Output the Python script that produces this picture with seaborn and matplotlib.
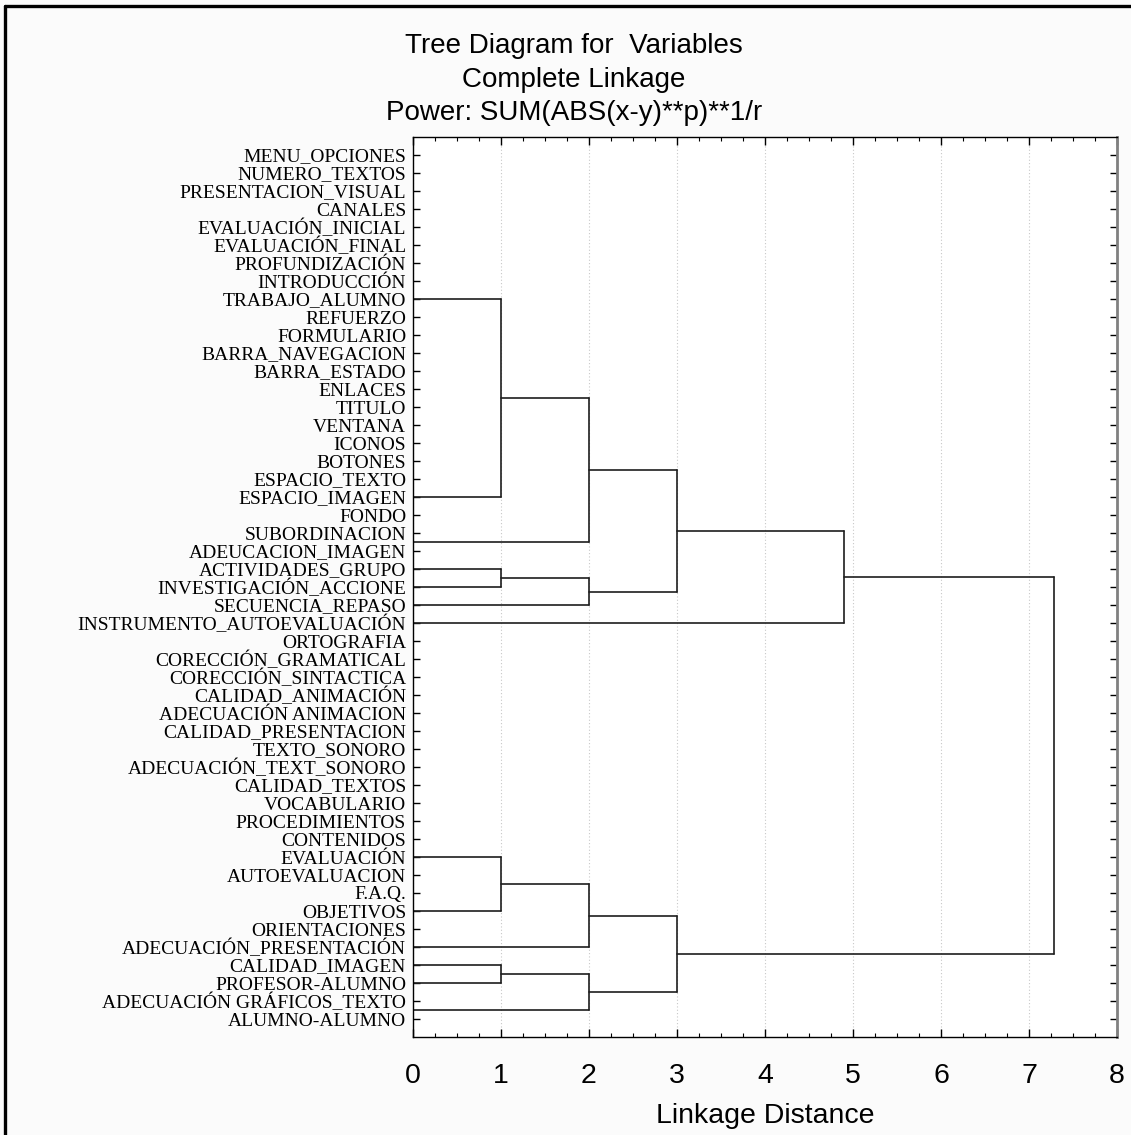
import matplotlib
matplotlib.use("Agg")
import matplotlib.pyplot as plt
from matplotlib.ticker import MultipleLocator
from matplotlib.lines import Line2D
import seaborn as sns
import pandas as pd

# ---------------- data ----------------
labels = [
    "MENU_OPCIONES", "NUMERO_TEXTOS", "PRESENTACION_VISUAL", "CANALES",
    "EVALUACIÓN_INICIAL", "EVALUACIÓN_FINAL", "PROFUNDIZACIÓN", "INTRODUCCIÓN",
    "TRABAJO_ALUMNO", "REFUERZO", "FORMULARIO", "BARRA_NAVEGACION",
    "BARRA_ESTADO", "ENLACES", "TITULO", "VENTANA", "ICONOS", "BOTONES",
    "ESPACIO_TEXTO", "ESPACIO_IMAGEN", "FONDO", "SUBORDINACION",
    "ADEUCACION_IMAGEN", "ACTIVIDADES_GRUPO", "INVESTIGACIÓN_ACCIONE",
    "SECUENCIA_REPASO", "INSTRUMENTO_AUTOEVALUACIÓN", "ORTOGRAFIA",
    "CORECCIÓN_GRAMATICAL", "CORECCIÓN_SINTACTICA", "CALIDAD_ANIMACIÓN",
    "ADECUACIÓN ANIMACION", "CALIDAD_PRESENTACION", "TEXTO_SONORO",
    "ADECUACIÓN_TEXT_SONORO", "CALIDAD_TEXTOS", "VOCABULARIO",
    "PROCEDIMIENTOS", "CONTENIDOS", "EVALUACIÓN", "AUTOEVALUACION", "F.A.Q.",
    "OBJETIVOS", "ORIENTACIONES", "ADECUACIÓN_PRESENTACIÓN", "CALIDAD_IMAGEN",
    "PROFESOR-ALUMNO", "ADECUACIÓN GRÁFICOS_TEXTO", "ALUMNO-ALUMNO",
]

# groups of variables joined at linkage distance 0:
# name -> (first label, last label, labels the group's link is drawn from)
zero_groups = {
    "A": ("MENU_OPCIONES", "TRABAJO_ALUMNO", ["TRABAJO_ALUMNO"]),
    "B": ("REFUERZO", "ESPACIO_IMAGEN", ["ESPACIO_IMAGEN"]),
    "C": ("FONDO", "ADEUCACION_IMAGEN", ["SUBORDINACION", "ADEUCACION_IMAGEN"]),
    "E": ("ORTOGRAFIA", "EVALUACIÓN", ["EVALUACIÓN"]),
    "F": ("AUTOEVALUACION", "OBJETIVOS", ["OBJETIVOS"]),
    "G": ("ORIENTACIONES", "ADECUACIÓN_PRESENTACIÓN", ["ADECUACIÓN_PRESENTACIÓN"]),
    "H": ("ADECUACIÓN GRÁFICOS_TEXTO", "ALUMNO-ALUMNO",
          ["ADECUACIÓN GRÁFICOS_TEXTO", "ALUMNO-ALUMNO"]),
}

# merges: (new cluster, child 1, child 2, linkage distance)
merges = [
    ("M1", "A", "B", 1.0),
    ("D", "ACTIVIDADES_GRUPO", "INVESTIGACIÓN_ACCIONE", 1.0),
    ("M2", "M1", "C", 2.0),
    ("M3", "D", "SECUENCIA_REPASO", 2.0),
    ("M4", "M2", "M3", 3.0),
    ("M5", "M4", "INSTRUMENTO_AUTOEVALUACIÓN", 4.9),
    ("N1", "E", "F", 1.0),
    ("N2", "N1", "G", 2.0),
    ("N3", "CALIDAD_IMAGEN", "PROFESOR-ALUMNO", 1.0),
    ("N4", "N3", "H", 2.0),
    ("N5", "N2", "N4", 3.0),
    ("ROOT", "M5", "N5", 7.28),
]

title_lines = ["Tree Diagram for  Variables", "Complete Linkage",
               "Power: SUM(ABS(x-y)**p)**1/r"]
x_label = "Linkage Distance"
x_ticks = [0, 1, 2, 3, 4, 5, 6, 7, 8]

# ---------------- build segments ----------------
row = {lab: i + 1 for i, lab in enumerate(labels)}
pos = {lab: float(row[lab]) for lab in labels}
height = {lab: 0.0 for lab in labels}
for name, (first, last, anchors) in zero_groups.items():
    pos[name] = sum(row[a] for a in anchors) / len(anchors)
    height[name] = 0.0

seg_rows = []
sid = 0
for name, c1, c2, h in merges:
    for c in (c1, c2):
        seg_rows.append((sid, height[c], pos[c]))
        seg_rows.append((sid, h, pos[c]))
        sid += 1
    seg_rows.append((sid, h, pos[c1]))
    seg_rows.append((sid, h, pos[c2]))
    sid += 1
    pos[name] = (pos[c1] + pos[c2]) / 2.0
    height[name] = h
segs = pd.DataFrame(seg_rows, columns=["seg", "x", "y"])

# ---------------- plot ----------------
sns.set_theme(style="white")
plt.rcParams["font.family"] = ["Liberation Sans", "DejaVu Sans"]
plt.rcParams["text.color"] = "black"
plt.rcParams["axes.labelcolor"] = "black"
plt.rcParams["xtick.color"] = "black"
plt.rcParams["ytick.color"] = "black"

W, H = 1131, 1135
fig = plt.figure(figsize=(W / 100, H / 100), dpi=100, facecolor="#fbfbfb")
ax_l, ax_r, ax_t, ax_b = 413, 1117, 137, 1037
ax = fig.add_axes([ax_l / W, 1 - ax_b / H, (ax_r - ax_l) / W, (ax_b - ax_t) / H])
ax.set_facecolor("white")

ax.grid(axis="x", which="major", linestyle=(0, (1, 2)), color="#c8c8c8", lw=0.8)
ax.set_axisbelow(True)

sns.lineplot(data=segs, x="x", y="y", units="seg", estimator=None, sort=False,
             color="#1e1e1e", linewidth=1.2, ax=ax, legend=False)

ax.set_xlim(0, 8)
ax.set_ylim(len(labels) + 1, 0)
ax.set_xticks(x_ticks)
ax.set_xticklabels([str(t) for t in x_ticks], fontsize=20.5, color="black")
ax.xaxis.set_minor_locator(MultipleLocator(0.25))
ax.set_yticks(range(1, len(labels) + 1))
ax.set_yticklabels(labels, fontfamily="Liberation Serif", fontsize=14, color="black")

ax.tick_params(axis="x", which="major", direction="in", length=6, width=1,
               top=True, bottom=True, pad=19, colors="black")
ax.tick_params(axis="x", which="minor", direction="in", length=3, width=0.8,
               top=True, bottom=True, colors="black")
ax.tick_params(axis="y", which="major", direction="in", length=5, width=1,
               left=True, right=True, pad=5, colors="black")

ax.set_xlabel(x_label, fontsize=20.5, labelpad=10, color="black")
ax.set_ylabel("")

for side in ["left", "top", "bottom"]:
    ax.spines[side].set_color("black")
    ax.spines[side].set_linewidth(1.0)
ax.spines["right"].set_color("#808080")
ax.spines["right"].set_linewidth(2.0)

baselines = [53, 87, 120]
for txt, b in zip(title_lines, baselines):
    fig.text(574 / W, 1 - b / H, txt, ha="center", va="baseline", fontsize=20,
             color="black")

# outer frame (left and top edges visible in the reference)
fig.add_artist(Line2D([5 / W, 5 / W], [0, 1 - 6 / H], color="black", lw=2.4))
fig.add_artist(Line2D([5 / W, 1], [1 - 6 / H, 1 - 6 / H], color="black", lw=2.4))

fig.savefig("out.png", dpi=100, facecolor=fig.get_facecolor())
